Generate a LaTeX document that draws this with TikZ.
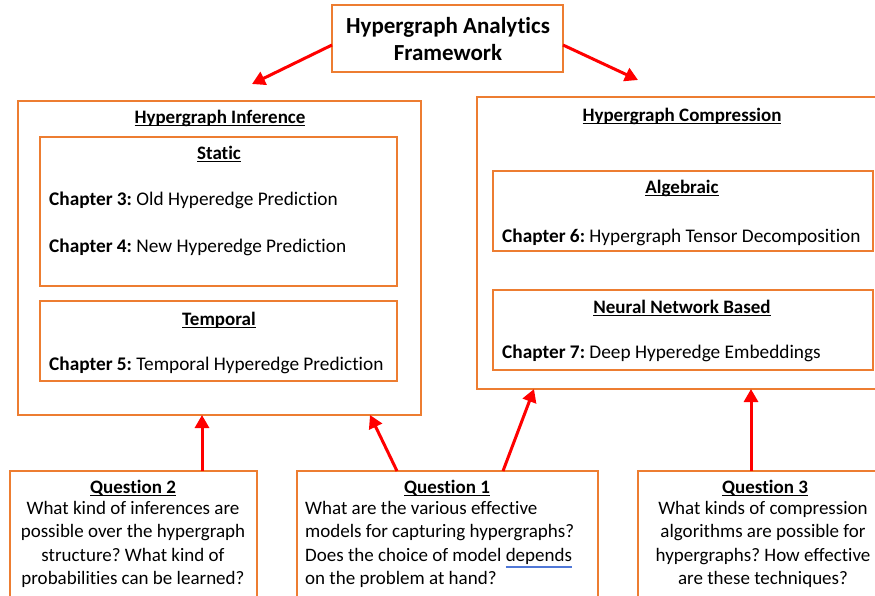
\documentclass[tikz,border=0pt]{standalone}
\usepackage{fontspec}
\setmainfont[Ligatures=NoCommon]{Carlito}
\usetikzlibrary{arrows.meta}
\frenchspacing

\definecolor{boxorange}{RGB}{237,125,49}
\definecolor{arrowred}{RGB}{255,0,0}
\definecolor{spellblue}{RGB}{80,120,215}

% heading underline that runs through the descenders
\newcommand\hdul[1]{\setbox0=\hbox{#1}\rlap{\rule[-3.2pt]{\wd0}{1.4pt}}\box0}
% blue double underline of a flagged word
\newcommand\spellmark[1]{\setbox0=\hbox{#1}\rlap{\textcolor{spellblue}{\rule[-5.2pt]{\wd0}{0.5pt}}}\rlap{\textcolor{spellblue}{\rule[-6.6pt]{\wd0}{0.5pt}}}\box0}

\begin{document}
\begin{tikzpicture}[x=1pt,y=-1pt,
  frame/.style={draw=boxorange,line width=1.1pt,fill=white,anchor=north west,
    inner sep=0pt,outer sep=0pt},
  link/.style={draw=arrowred,line width=3pt,
    -{Triangle[length=13pt,width=14pt]}},
  titletext/.style={font=\fontsize{23}{27}\selectfont\bfseries,align=center,
    inner sep=0pt},
  headtext/.style={font=\fontsize{19}{23}\selectfont\bfseries,anchor=base,
    inner sep=0pt},
  chaptext/.style={font=\fontsize{19.3}{23}\selectfont,anchor=base west,
    inner sep=0pt},
  qtext/.style={font=\fontsize{19}{23.3}\selectfont,anchor=north,
    align=center,inner sep=0pt},
]
\useasboundingbox (0,0) rectangle (875,595);
\clip (0,0) rectangle (875,595);

% top box
\node[frame,minimum width=231pt,minimum height=67pt] (top) at (332,5) {};
\node[titletext] (toptext) at (448,39)
  {Hypergraph Analytics\\Framework};

% inference column
\node[frame,minimum width=403pt,minimum height=314pt] (inf) at (18,101) {};
\node[headtext] (infhead) at (220,123) {\hdul{Hypergraph Inference}};
\node[frame,minimum width=357pt,minimum height=149pt] (static) at (40,137) {};
\node[headtext] (statichead) at (219,159) {\hdul{Static}};
\node[chaptext] (ch3) at (49,205) {\textbf{Chapter 3:} Old Hyperedge Prediction};
\node[chaptext] (ch4) at (49,252) {\textbf{Chapter 4:} New Hyperedge Prediction};
\node[frame,minimum width=357pt,minimum height=80pt] (temporal) at (40,301) {};
\node[headtext] (temphead) at (219,325) {\hdul{Temporal}};
\node[chaptext] (ch5) at (49,370) {\textbf{Chapter 5:} Temporal Hyperedge Prediction};

% compression column
\node[frame,minimum width=430pt,minimum height=292pt] (comp) at (477,97) {};
\node[headtext] (comphead) at (682,121) {\hdul{Hypergraph Compression}};
\node[frame,minimum width=380pt,minimum height=80pt] (alg) at (493,171) {};
\node[headtext] (alghead) at (682,193) {\hdul{Algebraic}};
\node[chaptext] (ch6) at (502,242) {\textbf{Chapter 6:} Hypergraph Tensor Decomposition};
\node[frame,minimum width=380pt,minimum height=80pt] (neural) at (493,290) {};
\node[headtext] (neuralhead) at (682,313) {\hdul{Neural Network Based}};
\node[chaptext] (ch7) at (502,358) {\textbf{Chapter 7:} Deep Hyperedge Embeddings};

% question boxes
\node[frame,minimum width=247pt,minimum height=160pt] (q2) at (10,471) {};
\node[headtext] (q2head) at (133,493) {\hdul{Question 2}};
\node[qtext] (q2text) at (133,501)
  {What kind of inferences are\\possible over the hypergraph\\structure? What kind of\\probabilities can be learned?};

\node[frame,minimum width=301pt,minimum height=160pt] (q1) at (297,471) {};
\node[headtext] (q1head) at (447,493) {\hdul{Question 1}};
\node[qtext,anchor=north west,align=left] (q1text) at (305,501)
  {What are the various effective\\models for capturing hypergraphs?\\Does the choice of model \spellmark{depends}\\on the problem at hand?};

\node[frame,minimum width=260pt,minimum height=160pt] (q3) at (638,471) {};
\node[headtext] (q3head) at (765,493) {\hdul{Question 3}};
\node[qtext] (q3text) at (763,501)
  {What kinds of compression\\algorithms are possible for\\hypergraphs? How effective\\are these techniques?};

% arrow targets
\coordinate (tipinf) at (252,84);
\coordinate (tipcomp) at (638,80);

% connectors
\draw[link] (top.west |- 0,45) -- (tipinf);
\draw[link] (top.east |- 0,45) -- (tipcomp);
\draw[link] (q2.north -| 202,0) -- (inf.south -| 202,0);
\draw[link] (q1.north -| 397,0) -- (inf.south -| 370,0);
\draw[link] (q1.north -| 503,0) -- (comp.south -| 534,0);
\draw[link] (q3.north -| 751,0) -- (comp.south -| 751,0);
\end{tikzpicture}
\end{document}
